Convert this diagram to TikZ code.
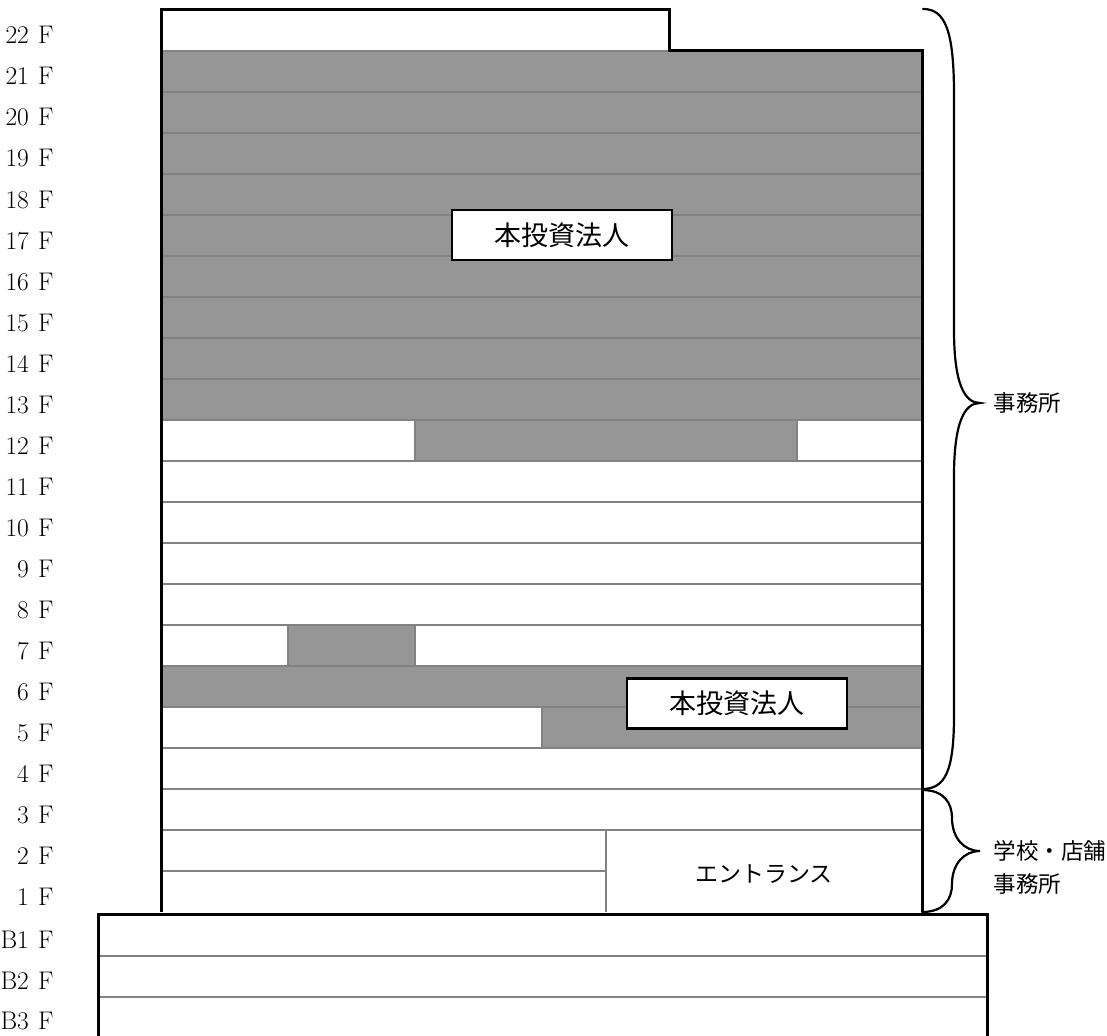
\documentclass[tikz,border=0pt]{standalone}
\usepackage{fontspec}
\newfontfamily\cjk{Noto Sans CJK JP}
\usetikzlibrary{positioning}
\definecolor{owned}{RGB}{150,150,150}
\definecolor{slab}{RGB}{130,130,130}
\tikzset{
	wall/.style={line width=3pt, line join=miter},
	slabline/.style={slab, line width=2pt},
	ownbox/.style={draw, line width=2.5pt, fill=white, minimum width=220pt, minimum height=50pt, inner sep=0pt, font=\cjk\fontsize{27}{27}\selectfont},
	flabel/.style={anchor=base east, font=\fontsize{25.5}{25.5}\selectfont},
	uselabel/.style={anchor=west, font=\cjk\fontsize{22.5}{22.5}\selectfont},
	curly/.style={line width=2.2pt, line cap=round},
}

\begin{document}
\begin{tikzpicture}[x=1pt, y=-1pt]
	\useasboundingbox (0,0) rectangle (1107,1035);
	% floors owned (grey)
	\fill[owned] (161,51) rectangle (922,420);
	\fill[owned] (415,420) rectangle (797,461);
	\fill[owned] (288,625) rectangle (415,666);
	\fill[owned] (161,666) rectangle (922,707);
	\fill[owned] (542,707) rectangle (922,748);
	% slabs
	\foreach \k in {2,...,20}
		\draw[slabline] (161,912-41*\k) -- (922,912-41*\k);
	\draw[slabline] (161,51) -- (669,51);
	\draw[slabline] (161,871) -- (606,871);
	\draw[slabline] (606,830) -- (606,912);
	\draw[slabline] (415,420) -- (415,461);
	\draw[slabline] (797,420) -- (797,461);
	\draw[slabline] (288,625) -- (288,666);
	\draw[slabline] (415,625) -- (415,666);
	\draw[slabline] (542,707) -- (542,748);
	\draw[slabline] (98,956) -- (987,956);
	\draw[slabline] (98,997) -- (987,997);
	% outline
	\draw[wall] (161,912) -- (161,10) -- (669,10) -- (669,51) -- (922,51) -- (922,912);
	\draw[wall] (98,1040) -- (98,914) -- (987,914) -- (987,1040);
	% floor labels
	\foreach \n in {1,...,22}
		\node[flabel] (f\n) at (57,912-41*\n+34) {\n\hspace{0.36em}F};
	\foreach \b [count=\i] in {935,976,1016}
		\node[flabel] (b\i) at (57,\b+13.5) {B\i\hspace{0.36em}F};
	% tenants
	\node[ownbox] (own17) at (562,235) {本投資法人};
	\node[ownbox] (own6) at (737,703.5) {本投資法人};
	\node[font=\cjk\fontsize{23}{23}\selectfont] (entrance) at (764,874) {エントランス};
	% braces
	\draw[curly] (923,9) .. controls (945,9) and (954,30) .. (954,95) -- (954,330)
		.. controls (954,385) and (965,403) .. (980,403)
		.. controls (965,403) and (954,421) .. (954,476) -- (954,715)
		.. controls (954,772) and (945,789) .. (922,789);
	\draw[curly] (922,790) .. controls (944,790) and (952,803) .. (952,818)
		.. controls (952,838) and (964,851) .. (980,851)
		.. controls (964,851) and (952,864) .. (952,884)
		.. controls (952,899) and (944,912) .. (922,912);
	\coordinate (tipA) at (980,403);
	\coordinate (tipB) at (980,851);
	\node[uselabel, right=10pt of tipA] (office) {事務所};
	\node[uselabel, right=10pt of tipB] (shop) {学校・店舗};
	\node[uselabel] (office2) at ([yshift=-33pt]shop.west) {事務所};
\end{tikzpicture}
\end{document}
